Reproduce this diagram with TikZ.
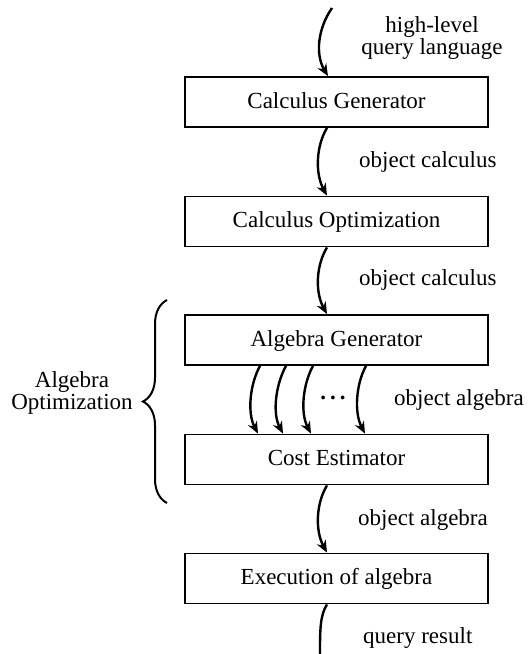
\documentclass[tikz,border=0pt]{standalone}
\usepackage{fontspec}
\setmainfont{Liberation Serif}
\usetikzlibrary{arrows.meta,decorations.pathreplacing,calc}
\begin{document}
\begin{tikzpicture}[x=1pt,y=-1pt,
  every node/.style={font=\fontsize{23}{22}\selectfont},
  box/.style={draw, line width=1.8pt, minimum width=303pt, minimum height=50pt, inner sep=0pt, text height=15.5pt, text depth=3.5pt},
  flow/.style={line width=2.4pt, -{Stealth[length=12pt,width=10pt]}},
  endline/.style={line width=2.4pt},
  lbl/.style={anchor=base west, inner sep=0pt},
  twoline/.style={align=center, inner sep=0pt},
  bracestyle/.style={line width=2pt, decorate, decoration={brace, amplitude=24pt}}]
\useasboundingbox (0,0) rectangle (529,654);
\node[box] (cg) at (336.5,102) {Calculus Generator};
\node[box] (co) at (336.5,221.5) {Calculus Optimization};
\node[box] (ag) at (336.5,340) {Algebra Generator};
\node[box] (ce) at (336.5,459.5) {Cost Estimator};
\node[box] (ex) at (336.5,578.5) {Execution of algebra};
\coordinate (in) at (332,8);
\coordinate (out) at (320,654);
\draw[flow] (in) .. controls +(-14,20) and +(-13,-22) .. ([xshift=-8.5pt]cg.north);
\draw[flow] ([xshift=-9.5pt]cg.south) .. controls +(-11,18) and +(-12,-22) .. ([xshift=-9.5pt]co.north);
\draw[flow] ([xshift=-9.5pt]co.south) .. controls +(-11,18) and +(-12,-22) .. ([xshift=-9.5pt]ag.north);
\draw[flow] ([xshift=-76.5pt]ag.south) .. controls +(-10,18) and +(-11,-21) .. ([xshift=-78.5pt]ce.north);
\draw[flow] ([xshift=-50.5pt]ag.south) .. controls +(-10,18) and +(-11,-21) .. ([xshift=-53.5pt]ce.north);
\draw[flow] ([xshift=-23.5pt]ag.south) .. controls +(-10,18) and +(-11,-21) .. ([xshift=-25.5pt]ce.north);
\draw[flow] ([xshift=29.5pt]ag.south) .. controls +(-10,18) and +(-11,-21) .. ([xshift=28.5pt]ce.north);
\draw[flow] ([xshift=-9.5pt]ce.south) .. controls +(-11,18) and +(-12,-22) .. ([xshift=-9.5pt]ex.north);
\draw[endline] ([xshift=-9.5pt]ex.south) .. controls +(-7,11) and +(0,-24) .. (out);
\node[twoline] (l0) at (432,37.7) {high-level\\query language};
\node[lbl] (l1) at (359,167) {object calculus};
\node[lbl] (l2) at (359,285) {object calculus};
\node[lbl] (l3) at (394,405) {object algebra};
\node[lbl] (l4) at (358,525) {object algebra};
\node[lbl] (l5) at (363,643) {query result};
\node[twoline] (ao) at (72,392.7) {Algebra\\Optimization};
\node[inner sep=0pt] (dots) at (333,398) {\bfseries .\kern4pt.\kern4pt.};
\draw[bracestyle] (167,503) -- (167,300);
\end{tikzpicture}
\end{document}
